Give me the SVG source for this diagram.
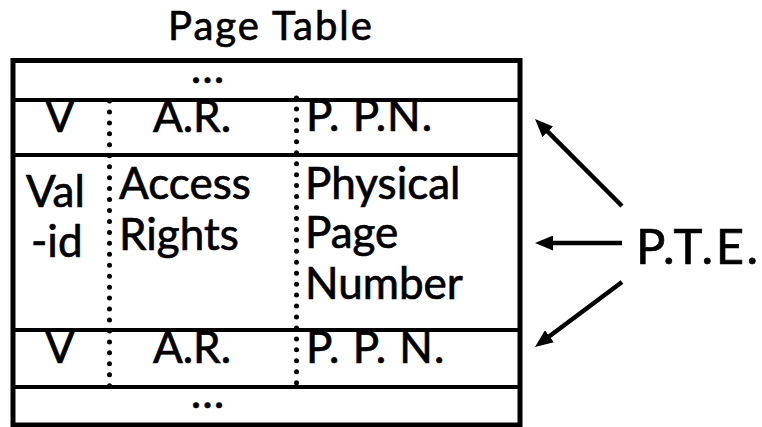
<svg xmlns="http://www.w3.org/2000/svg" width="762" height="427" viewBox="0 0 762 427">
  <style>
    text { font-family: Lato, "Open Sans", "Liberation Sans", sans-serif; fill: #000; stroke: #000; stroke-width: 0.7; }
    .cell { font-size: 44px; }
    .mid { text-anchor: middle; }
    .ellipsis { font-size: 36px; font-weight: bold; letter-spacing: 3px; text-anchor: middle; }
    .title { font-size: 40px; letter-spacing: 2px; text-anchor: middle; }
    .pte { font-size: 49px; letter-spacing: 2.5px; }
    .frame { fill: none; stroke: #000; stroke-width: 5; }
    .rule { stroke: #000; stroke-width: 4; }
    .dots { stroke: #000; stroke-width: 5; stroke-linecap: round; stroke-dasharray: 0 10.95; fill: none; }
    .arrow { stroke: #000; stroke-width: 4.5; fill: none; marker-end: url(#head); }
  </style>
  <defs>
    <marker id="head" markerUnits="userSpaceOnUse" viewBox="0 0 18 15" markerWidth="18" markerHeight="15" refX="10" refY="7.5" orient="auto">
      <path d="M0,0 L18,7.5 L0,15 z" fill="#000"/>
    </marker>
  </defs>

  <g id="title">
    <text class="title" x="271" y="40">Page Table</text>
  </g>

  <g id="page-table">
    <!-- outer frame and row separators -->
    <rect class="frame" x="13" y="60.5" width="507" height="364.5"/>
    <line class="rule" x1="13" y1="100" x2="520" y2="100"/>
    <line class="rule" x1="13" y1="155" x2="520" y2="155"/>
    <line class="rule" x1="13" y1="330" x2="520" y2="330"/>
    <line class="rule" x1="13" y1="387" x2="520" y2="387"/>
    <!-- dotted column separators -->
    <line class="dots" x1="109.5" y1="101" x2="109.5" y2="387"/>
    <line class="dots" x1="296.5" y1="98" x2="296.5" y2="387"/>

    <g id="row-ellipsis-top">
      <text class="ellipsis" x="209" y="83">...</text>
    </g>
    <g id="row-entry-top">
      <text class="cell mid" x="60" y="132">V</text>
      <text class="cell mid" x="192" y="132">A.R.</text>
      <text class="cell" x="306" y="131" letter-spacing="1">P. P.N.</text>
    </g>
    <g id="row-entry-detail">
      <text class="cell" x="26" y="207">Val</text>
      <text class="cell" x="31" y="257">-id</text>
      <text class="cell" x="119" y="199">Access</text>
      <text class="cell" x="119" y="250">Rights</text>
      <text class="cell" x="305" y="199">Physical</text>
      <text class="cell" x="305" y="248">Page</text>
      <text class="cell" x="305" y="299">Number</text>
    </g>
    <g id="row-entry-bottom">
      <text class="cell mid" x="60" y="363">V</text>
      <text class="cell mid" x="192" y="363">A.R.</text>
      <text class="cell" x="306" y="363" letter-spacing="1">P. P. N.</text>
    </g>
    <g id="row-ellipsis-bottom">
      <text class="ellipsis" x="209" y="408">...</text>
    </g>
  </g>

  <g id="pte">
    <text class="pte" x="636" y="264">P.T.E.</text>
  </g>

  <g id="connectors">
    <path class="arrow" d="M622,206 L540.7,124.7"/>
    <path class="arrow" d="M622,243 L543,243"/>
    <path class="arrow" d="M622,282 L541.4,342.2"/>
  </g>
</svg>
